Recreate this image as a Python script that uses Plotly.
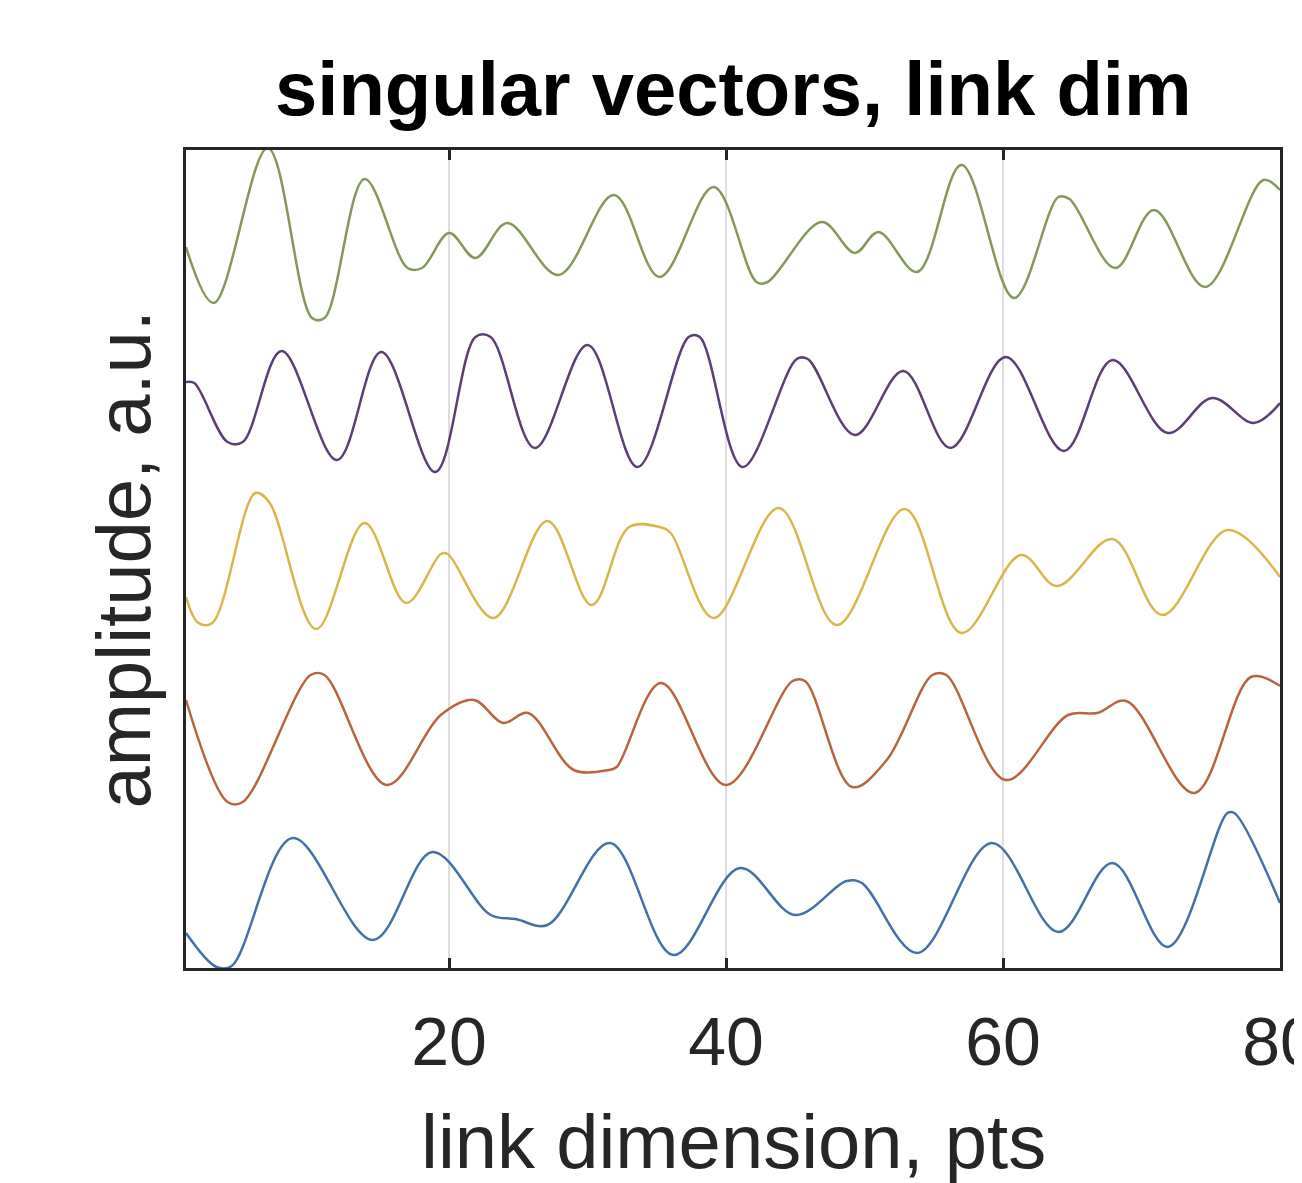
import plotly.graph_objects as go

# ---- data (arbitrary amplitude units, traces stacked) ----
green_x = [1, 3.0, 6.9, 10.1, 11.0, 13.9, 17.0, 18.05, 20, 21.9, 24.2, 27.9, 31.9, 35.2, 39.1,
           42.2, 43.0, 46.9, 49.3, 51.0, 53.8, 57.0, 60.8, 64.0, 64.8, 68.1, 70.9, 74.6, 78.8, 80]
green_y = [7.21, 6.65, 8.20, 6.50, 6.50, 7.89, 7.00, 7.00, 7.35, 7.10, 7.45, 6.93, 7.73, 6.91, 7.81,
           6.86, 6.86, 7.46, 7.15, 7.36, 6.96, 8.03, 6.70, 7.71, 7.69, 7.00, 7.58, 6.81, 7.88, 7.78]

purple_x = [1, 1.6, 4.0, 5.1, 7.9, 11.9, 15.1, 19.0, 21.9, 23.0, 26.2, 30.0, 33.6, 37.3, 38.1,
            41.2, 45.1, 45.9, 49.3, 52.8, 56.2, 60.2, 64.4, 67.9, 71.9, 75.1, 78.1, 80]
purple_y = [5.86, 5.85, 5.26, 5.26, 6.17, 5.08, 6.16, 4.96, 6.31, 6.31, 5.20, 6.23, 5.01, 6.31, 6.31,
            5.01, 6.09, 6.09, 5.33, 5.97, 5.20, 6.11, 5.17, 6.08, 5.35, 5.70, 5.45, 5.65]

yellow_x = [1, 1.9, 2.9, 6.0, 7.0, 10.4, 13.9, 16.9, 19.4, 19.9, 23.2, 27.1, 30.3, 33.0, 35.2, 36.0,
            39.1, 43.8, 48.0, 52.9, 57.0, 61.3, 63.9, 67.9, 71.5, 76.2, 80]
yellow_y = [3.71, 3.45, 3.45, 4.75, 4.66, 3.39, 4.45, 3.65, 4.14, 4.14, 3.50, 4.47, 3.63, 4.41, 4.41, 4.35,
            3.50, 4.60, 3.43, 4.59, 3.35, 4.13, 3.82, 4.29, 3.53, 4.38, 3.91]

orange_x = [1, 4.0, 5.1, 10.0, 11.0, 15.5, 19.4, 21.8, 23.9, 25.7, 29.0, 31.5, 32.1, 35.3, 40.0,
            44.8, 45.7, 49.1, 51.6, 54.9, 55.9, 60.2, 64.7, 66.8, 68.9, 73.8, 77.9, 80]
orange_y = [2.68, 1.66, 1.66, 2.93, 2.93, 1.83, 2.53, 2.68, 2.45, 2.55, 1.98, 1.98, 2.01, 2.85, 1.83,
            2.87, 2.87, 1.81, 2.08, 2.93, 2.93, 1.88, 2.53, 2.55, 2.67, 1.75, 2.91, 2.82]

blue_x = [1, 3.2, 4.3, 8.7, 14.5, 18.8, 23.0, 24.8, 27.1, 31.6, 36.2, 41.0, 45.0, 48.7, 49.8,
          53.8, 59.2, 64.0, 67.9, 71.9, 76.2, 76.7, 80]
blue_y = [0.35, 0.01, 0.02, 1.30, 0.28, 1.16, 0.53, 0.49, 0.43, 1.25, 0.13, 1.00, 0.53, 0.87, 0.85,
          0.15, 1.25, 0.36, 1.05, 0.21, 1.55, 1.55, 0.65]

x_ticks = [20, 40, 60, 80]
x_tick_labels = ["20", "40", "60", "80"]

series = [
    ("blue", blue_x, blue_y, "#4470A8"),
    ("orange", orange_x, orange_y, "#B8643E"),
    ("yellow", yellow_x, yellow_y, "#D8B64C"),
    ("purple", purple_x, purple_y, "#5C3D74"),
    ("green", green_x, green_y, "#84985A"),
]

FONT = "Liberation Sans, Arial, sans-serif"

fig = go.Figure()
for name, xs, ys, col in series:
    fig.add_trace(go.Scatter(x=xs, y=ys, mode="lines", name=name,
                             line=dict(color=col, width=2.5, shape="spline", smoothing=1.0),
                             showlegend=False))

fig.update_layout(
    width=1302, height=1183,
    margin=dict(l=178, r=30, t=142, b=223, autoexpand=False),
    paper_bgcolor="white", plot_bgcolor="white",
    font=dict(family=FONT, color="#262626"),
    annotations=[
        dict(text="<b>singular vectors, link dim</b>", xref="paper", yref="paper",
             x=0.5, y=1.075, xanchor="center", yanchor="middle", showarrow=False,
             font=dict(size=76, color="black", family=FONT)),
        dict(text="link dimension, pts", xref="paper", yref="paper",
             x=0.5, y=-0.212, xanchor="center", yanchor="middle", showarrow=False,
             font=dict(size=76, color="#262626", family=FONT)),
        dict(text="amplitude, a.u.", xref="paper", yref="paper", textangle=-90,
             x=-0.058, y=0.5, xanchor="center", yanchor="middle", showarrow=False,
             font=dict(size=76, color="#262626", family=FONT)),
    ],
)

fig.update_xaxes(range=[1, 80], tickvals=x_ticks, ticktext=x_tick_labels,
                 automargin=False,
                 showgrid=True, gridcolor="#DEDEDE", gridwidth=2,
                 showline=True, linecolor="#262626", linewidth=2.5, mirror="ticks",
                 ticks="inside", ticklen=10, tickwidth=2.5, tickcolor="#262626",
                 tickfont=dict(size=68, color="#262626", family=FONT),
                 ticklabeloverflow="allow", ticklabelstandoff=13,
                 zeroline=False)
fig.update_yaxes(range=[0, 8.18], showticklabels=False, showgrid=False,
                 automargin=False,
                 showline=True, linecolor="#262626", linewidth=2.5, mirror=True,
                 ticks="", zeroline=False)

fig.write_html("out.html")
